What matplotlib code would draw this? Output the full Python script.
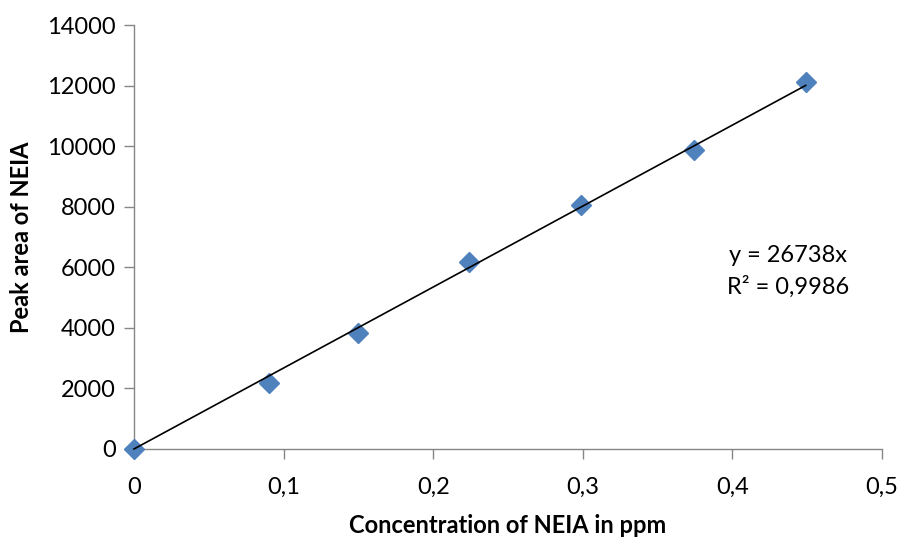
import matplotlib
matplotlib.use("Agg")
import matplotlib.pyplot as plt
import numpy as np
from matplotlib.ticker import FuncFormatter

plt.rcParams['font.family'] = ['Lato', 'DejaVu Sans']

conc = [0, 0.09, 0.15, 0.224, 0.299, 0.374, 0.449]
area = [0, 2170, 3830, 6180, 8055, 9860, 12120]
slope = 26738
r2_text = "R² = 0,9986"
eq_text = "y = 26738x"
x_ticks = [0, 0.1, 0.2, 0.3, 0.4, 0.5]
y_ticks = list(range(0, 14001, 2000))

fig = plt.figure(figsize=(9.09, 5.46), dpi=100)
ax = fig.add_axes([0.1474, 0.1777, 0.8229, 0.7765])

xt = np.array([0, max(conc)])
ax.plot(xt, slope * xt, color='black', lw=1.2, zorder=4, clip_on=False)
ax.plot(conc, area, linestyle='none', marker='D', markersize=10,
        color='#4F81BD', markeredgecolor='#4F81BD', zorder=3, clip_on=False)

ax.set_xlim(0, 0.5)
ax.set_ylim(0, 14000)
ax.set_xticks(x_ticks)
ax.set_yticks(y_ticks)
ax.xaxis.set_major_formatter(FuncFormatter(lambda v, p: ('%g' % v).replace('.', ',')))
ax.yaxis.set_major_formatter(FuncFormatter(lambda v, p: '%d' % v))

for s in ['top', 'right']:
    ax.spines[s].set_visible(False)
for s in ['left', 'bottom']:
    ax.spines[s].set_color('#868686')
    ax.spines[s].set_linewidth(1.0)
    ax.spines[s].set_zorder(2)
ax.tick_params(axis='both', colors='#868686', labelcolor='black', labelsize=17,
               length=7, width=1.0, direction='out')
ax.tick_params(axis='x', pad=13)
ax.tick_params(axis='y', pad=6)

ax.set_xlabel('Concentration of NEIA in ppm', fontsize=17, fontweight='bold', labelpad=12)
ax.set_ylabel('Peak area of NEIA', fontsize=17, fontweight='bold', labelpad=10)

ax.text(0.437, 6405, eq_text, fontsize=17, ha='center', va='center')
ax.text(0.437, 5348, r2_text, fontsize=17, ha='center', va='center')

fig.savefig('out.png', dpi=100)
